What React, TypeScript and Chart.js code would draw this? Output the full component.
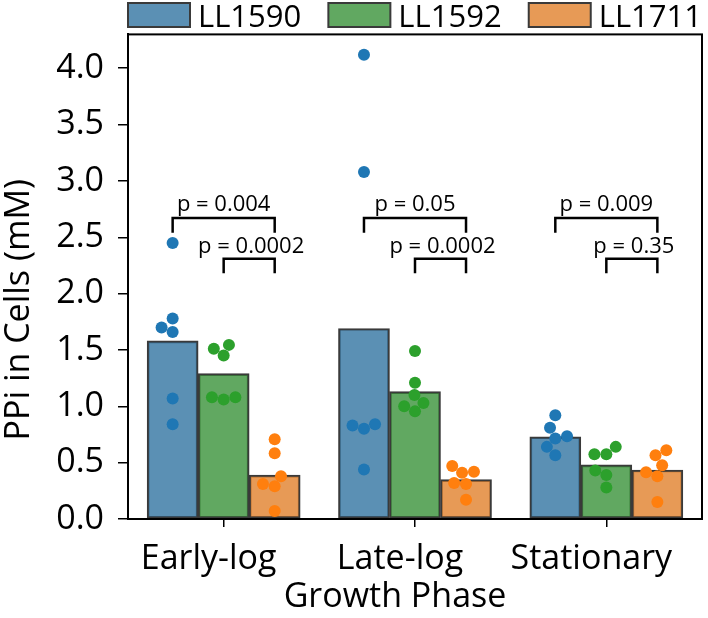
import React, { useEffect, useRef } from "react";
import { Chart, registerables } from "chart.js";

Chart.register(...registerables);

// ---------- data ----------
const phases = ["Early-log", "Late-log", "Stationary"];
const strains = ["LL1590", "LL1592", "LL1711"];

// bar heights (mean PPi, mM) per phase
const barLL1590 = [1.58, 1.69, 0.73];
const barLL1592 = [1.29, 1.13, 0.48];
const barLL1711 = [0.39, 0.35, 0.435];

// individual replicates per phase
const ptsLL1590 = [
  [2.45, 1.78, 1.7, 1.66, 1.07, 0.84],
  [4.12, 3.08, 0.84, 0.83, 0.8, 0.44],
  [0.92, 0.81, 0.735, 0.715, 0.64, 0.565],
];
const ptsLL1592 = [
  [1.545, 1.51, 1.45, 1.08, 1.08, 1.06],
  [1.49, 1.21, 1.1, 1.03, 1.0, 0.955],
  [0.64, 0.575, 0.575, 0.43, 0.39, 0.28],
];
const ptsLL1711 = [
  [0.707, 0.583, 0.38, 0.31, 0.29, 0.07],
  [0.47, 0.42, 0.41, 0.32, 0.31, 0.17],
  [0.61, 0.565, 0.477, 0.415, 0.38, 0.15],
];

// significance annotations
const pLL1590vsLL1711 = ["p = 0.004", "p = 0.05", "p = 0.009"];
const pLL1592vsLL1711 = ["p = 0.0002", "p = 0.0002", "p = 0.35"];
const bigBracketTop = [2.67, 2.67, 2.67];
const bigBracketLeg = [2.54, 2.54, 2.54];
const smallBracketTop = [2.31, 2.31, 2.31];
const smallBracketLeg = [2.18, 2.18, 2.18];

const yTicks = [0, 0.5, 1, 1.5, 2, 2.5, 3, 3.5, 4];
const Y_MAX = 4.3;

// ---------- styles ----------
const barFill = ["rgba(50,116,161,0.8)", "rgba(58,146,58,0.8)", "rgba(225,129,44,0.8)"];
const dotColor = ["#1f77b4", "#2ca02c", "#ff7f0e"];
const edge = "#3a3a3a";
const FONT = '"Open Sans", "DejaVu Sans", sans-serif';
const CAT_PCT = 0.8;
const BAR_W = CAT_PCT / 3; // width of one bar in category units
const DOT_R = 6;
// approximate plot geometry used only for non-overlapping swarm layout
const PX_PER_Y = 487 / Y_MAX;
const PX_PER_CAT = 577 / 3;

function swarmOffsets(values: number[], r: number): number[] {
  const order = values.map((_, i) => i).sort((a, b) => values[a] - values[b]);
  const placed: { x: number; y: number }[] = [];
  const out = new Array(values.length).fill(0);
  const d = 2 * r;
  for (const i of order) {
    const y = values[i] * PX_PER_Y;
    const cands = [0];
    for (const p of placed) {
      const dy = Math.abs(p.y - y);
      if (dy < d) {
        const dx = Math.sqrt(d * d - dy * dy);
        cands.push(p.x - dx, p.x + dx);
      }
    }
    cands.sort((a, b) => Math.abs(a) - Math.abs(b) || a - b);
    let best = 0;
    for (const c of cands) {
      if (placed.every((p) => Math.hypot(p.x - c, p.y - y) >= d - 1e-6)) {
        best = c;
        break;
      }
    }
    placed.push({ x: best, y });
    out[i] = best;
  }
  return out;
}

const barSeries = [barLL1590, barLL1592, barLL1711];
const ptSeries = [ptsLL1590, ptsLL1592, ptsLL1711];

const overlay = {
  id: "overlay",
  afterDraw(chart: any) {
    const { ctx, chartArea: a, scales } = chart;
    const xl = scales.xl;
    const y = scales.y;
    ctx.save();
    // full box
    ctx.strokeStyle = "#000";
    ctx.lineWidth = 2;
    ctx.strokeRect(a.left, a.top, a.right - a.left, a.bottom - a.top);

    // p-values
    ctx.fillStyle = "#000";
    ctx.font = `22px ${FONT}`;
    ctx.textAlign = "center";
    ctx.textBaseline = "alphabetic";
    phases.forEach((_, i) => {
      const xb = xl.getPixelForValue(i - BAR_W);
      const xg = xl.getPixelForValue(i);
      const xo = xl.getPixelForValue(i + BAR_W);
      ctx.fillText(pLL1590vsLL1711[i], (xb + xo) / 2, y.getPixelForValue(bigBracketTop[i]) - 7);
      ctx.fillText(pLL1592vsLL1711[i], (xg + xo) / 2 + 2, y.getPixelForValue(smallBracketTop[i]) - 6);
    });

    // legend (expanded across plot width)
    ctx.font = `31px ${FONT}`;
    ctx.textAlign = "left";
    const boxW = 62, boxH = 24, gapT = 8;
    const widths = strains.map((s) => boxW + gapT + ctx.measureText(s).width);
    const total = widths.reduce((s, w) => s + w, 0);
    const gap = (a.right - a.left - total) / (strains.length - 1);
    let lx = a.left;
    strains.forEach((s, k) => {
      ctx.fillStyle = barFill[k];
      ctx.fillRect(lx, 3, boxW, boxH);
      ctx.strokeStyle = edge;
      ctx.lineWidth = 2;
      ctx.strokeRect(lx, 3, boxW, boxH);
      ctx.fillStyle = "#000";
      ctx.fillText(s, lx + boxW + gapT, 27);
      lx += widths[k] + gap;
    });

    // axis titles
    ctx.font = `34px ${FONT}`;
    ctx.textAlign = "center";
    ctx.fillText("Growth Phase", (a.left + a.right) / 2 - 20, 607);
    ctx.translate(29, (a.top + a.bottom) / 2 + 33);
    ctx.rotate(-Math.PI / 2);
    ctx.fillText("PPi in Cells (mM)", 0, 0);
    ctx.restore();
  },
};

export default function App() {
  const ref = useRef<HTMLCanvasElement>(null);
  useEffect(() => {
    document.body.style.margin = "0";
    const datasets: any[] = [];
    // bars (placed on the linear companion axis at their group positions)
    strains.forEach((s, k) => {
      datasets.push({
        type: "bar",
        label: s,
        data: barSeries[k].map((v, i) => ({ x: i + (k - 1) * BAR_W, y: v })),
        xAxisID: "xl",
        yAxisID: "y",
        backgroundColor: barFill[k],
        borderColor: edge,
        borderWidth: 2,
        borderSkipped: false,
        grouped: false,
        categoryPercentage: 1.0,
        barPercentage: 1.0,
        order: 3,
      });
    });
    // swarm points
    strains.forEach((s, k) => {
      const data: { x: number; y: number }[] = [];
      phases.forEach((_, i) => {
        const vals = ptSeries[k][i];
        const offs = swarmOffsets(vals, DOT_R);
        vals.forEach((v, j) => {
          data.push({ x: i + (k - 1) * BAR_W + offs[j] / PX_PER_CAT, y: v });
        });
      });
      datasets.push({
        type: "scatter",
        label: s + " points",
        data,
        xAxisID: "xl",
        yAxisID: "y",
        pointRadius: DOT_R,
        pointBackgroundColor: dotColor[k],
        pointBorderWidth: 0,
        showLine: false,
        order: 2,
      });
    });
    // brackets
    phases.forEach((_, i) => {
      datasets.push({
        type: "line",
        label: "bracket big " + i,
        data: [
          { x: i - BAR_W, y: bigBracketLeg[i] },
          { x: i - BAR_W, y: bigBracketTop[i] },
          { x: i + BAR_W, y: bigBracketTop[i] },
          { x: i + BAR_W, y: bigBracketLeg[i] },
        ],
        xAxisID: "xl",
        yAxisID: "y",
        borderColor: "#000",
        borderWidth: 2.5,
        pointRadius: 0,
        tension: 0,
        fill: false,
        order: 1,
      });
      datasets.push({
        type: "line",
        label: "bracket small " + i,
        data: [
          { x: i, y: smallBracketLeg[i] },
          { x: i, y: smallBracketTop[i] },
          { x: i + BAR_W, y: smallBracketTop[i] },
          { x: i + BAR_W, y: smallBracketLeg[i] },
        ],
        xAxisID: "xl",
        yAxisID: "y",
        borderColor: "#000",
        borderWidth: 2.5,
        pointRadius: 0,
        tension: 0,
        fill: false,
        order: 1,
      });
    });

    const chart = new Chart(ref.current as HTMLCanvasElement, {
      type: "bar",
      data: { labels: phases, datasets },
      options: {
        animation: false,
        responsive: false,
        layout: { padding: { left: 0, right: 3, top: 32, bottom: 0 } },
        plugins: { legend: { display: false }, tooltip: { enabled: false } },
        scales: {
          x: {
            type: "category",
            labels: phases,
            offset: true,
            grid: {
              display: true,
              offset: false,
              drawOnChartArea: false,
              drawTicks: true,
              tickLength: 8,
              color: "#000",
              lineWidth: 1.5,
            },
            border: { display: true, color: "#000", width: 2 },
            ticks: { color: "#000", font: { family: FONT, size: 34 }, padding: 12, labelOffset: -15 },
            afterFit: (s: any) => {
              s.height = 99;
            },
          },
          xl: {
            type: "linear",
            min: -0.5,
            max: 2.5,
            offset: false,
            display: false,
            ticks: { stepSize: 1 },
          },
          y: {
            type: "linear",
            min: 0,
            max: Y_MAX,
            afterBuildTicks: (s: any) => {
              s.ticks = yTicks.map((v) => ({ value: v }));
            },
            grid: {
              display: true,
              drawOnChartArea: false,
              drawTicks: true,
              tickLength: 10,
              color: "#000",
              lineWidth: 1.5,
            },
            border: { display: true, color: "#000", width: 2 },
            ticks: {
              color: "#000",
              font: { family: FONT, size: 34 },
              padding: 14,
              callback: (v: any) => Number(v).toFixed(1),
            },
            afterFit: (s: any) => {
              s.width = 128;
            },
          },
        },
      },
      plugins: [overlay],
    } as any);
    return () => chart.destroy();
  }, []);
  return (
    <div style={{ width: 708, height: 618 }}>
      <canvas ref={ref} width={708} height={618} style={{ display: "block" }} />
    </div>
  );
}
